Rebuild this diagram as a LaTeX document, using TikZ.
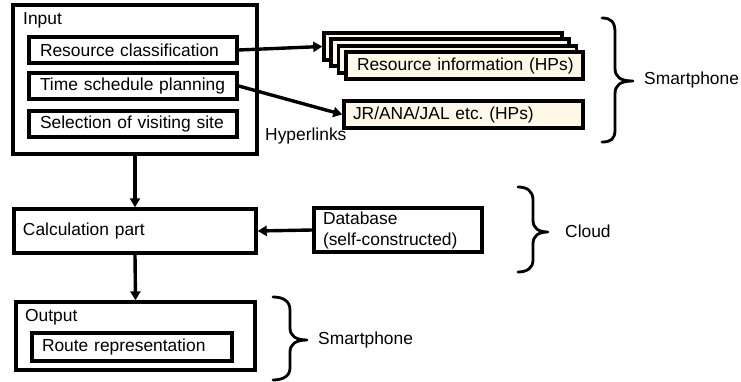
\documentclass[tikz,border=0pt]{standalone}
\usepackage{fontspec}
\setmainfont[WordSpace=0.75]{Liberation Sans}
\usetikzlibrary{arrows.meta}
\definecolor{cream}{HTML}{FFF8E8}
\newcommand\fs{\fontsize{17.4}{21}\selectfont\frenchspacing}
\begin{document}
\begin{tikzpicture}[x=1pt,y=-1pt,
  box/.style={draw, line width=3.4pt, inner ysep=2pt, align=left, font=\fs},
  emptybox/.style={draw, line width=3.4pt, inner sep=0pt},
  hp/.style={box, fill=cream, minimum height=27pt},
  hpback/.style={emptybox, fill=cream, minimum width=238pt, minimum height=27pt},
  txt/.style={inner sep=0pt, anchor=west, font=\fs},
  arr/.style={line width=3.4pt, -{Triangle[length=9pt,width=10pt]}},
  bracestyle/.style={line width=2.8pt, line cap=round, line join=round}]
\useasboundingbox (0,0) rectangle (741,382);

% Input block
\node[emptybox, minimum width=244pt, minimum height=149pt] (input) at (135,79.5) {};
\node[txt] (inputlbl) at (23,20) {Input};
\node[box, minimum height=26pt, inner xsep=11pt, text width=186pt] (rc) at (133,50) {Resource classification};
\node[box, minimum height=26pt, inner xsep=11pt, text width=186pt] (ts) at (133,86) {Time schedule planning};
\node[box, minimum height=26pt, inner xsep=11pt, text width=186pt] (sv) at (133,124) {Selection of visiting site};

% HP stacks
\node[hpback] (b1) at (443,46.5) {};
\node[hpback] (b2) at (450,52.5) {};
\node[hpback] (b3) at (457.5,59.5) {};
\node[hp, inner xsep=11pt, text width=215pt] (ri) at (464.5,65.5) {\mbox{Resource information (HPs)}};
\node[hp, inner xsep=9pt, text width=221pt] (jr) at (463.5,114.5) {JR/ANA/JAL etc. (HPs)};
\node[txt] (hyper) at (265,136) {Hyperlinks};

% Calculation, database, output
\node[box, minimum height=44pt, inner xsep=9pt, text width=224pt] (calc) at (135,231) {Calculation part};
\node[box, minimum height=44pt, inner xsep=9pt, text width=150pt] (db) at (398,230) {Database\\(self-constructed)};
\node[emptybox, minimum width=239pt, minimum height=68pt] (out) at (135.5,336) {};
\node[txt] (outlbl) at (25,317) {Output};
\node[box, minimum height=28pt, inner xsep=10pt, text width=180pt] (route) at (132,347) {Route representation};

% connectors
\draw[arr] (rc.east) -- (b1.west);
\draw[arr] (ts.east) -- (jr.west);
\draw[arr] (input.south) -- (calc.north);
\draw[arr] (db.west) -- (calc.east);
\draw[arr] (calc.south) -- (out.north);

% braces
\draw[bracestyle] (602,18) .. controls (611,18) and (615,22) .. (615,32) -- (615,68)
  .. controls (615,77) and (620,81) .. (633,81)
  .. controls (620,81) and (615,85) .. (615,94) -- (615,130)
  .. controls (615,139) and (611,142) .. (602,142);
\node[txt] (sp1) at (644,80) {Smartphone};

\draw[bracestyle] (518,187) .. controls (527,187) and (533,191) .. (533,200) -- (533,220)
  .. controls (533,228) and (538,232) .. (548,232)
  .. controls (538,232) and (533,236) .. (533,244) -- (533,260)
  .. controls (533,268) and (527,272) .. (518,272);
\node[txt] (cloud) at (565,231) {Cloud};

\draw[bracestyle] (273,297) .. controls (283,297) and (290,301) .. (290,310) -- (290,328)
  .. controls (290,336) and (296,340) .. (307,340)
  .. controls (296,340) and (290,344) .. (290,352) -- (290,368)
  .. controls (290,376) and (283,380) .. (273,380);
\node[txt] (sp2) at (318,340) {Smartphone};
\end{tikzpicture}
\end{document}
